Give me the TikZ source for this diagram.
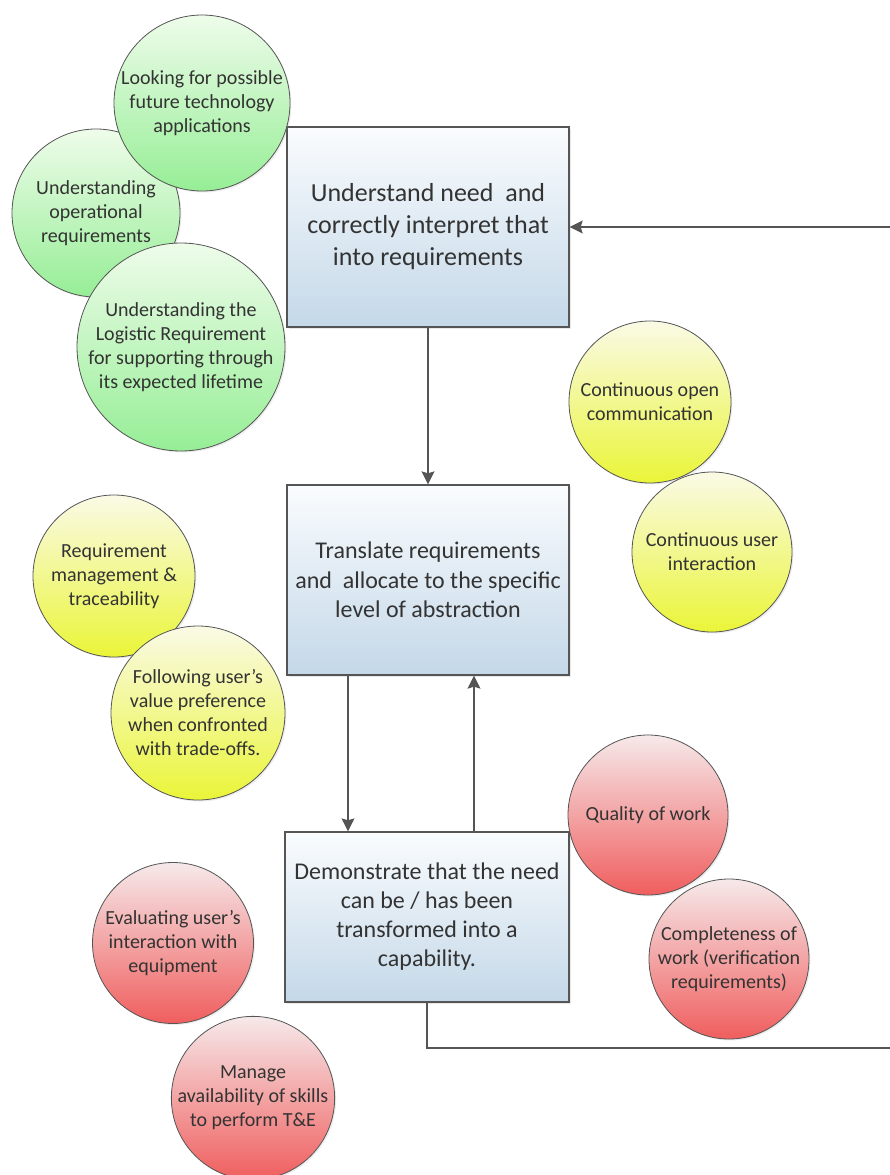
\documentclass[tikz,border=0pt]{standalone}
\usepackage{fontspec}
\setmainfont{Carlito}
\usepackage{tikz}
\usetikzlibrary{shapes, shadows, arrows.meta}
\usetikzlibrary{positioning}
\usepackage{xcolor}
\definecolor{textgray}{HTML}{333333}
\definecolor{linegray}{HTML}{555555}
\definecolor{boxtop}{HTML}{FAFCFE}
\definecolor{boxbottom}{HTML}{C4D8E8}
\definecolor{greentop}{HTML}{EEFCEA}
\definecolor{greenbottom}{HTML}{96EE96}
\definecolor{yellowtop}{HTML}{FAFAE6}
\definecolor{yellowbottom}{HTML}{EAF538}
\definecolor{redtop}{HTML}{F6E9EA}
\definecolor{redbottom}{HTML}{F05E5E}

\tikzset{
  needbox/.style={draw=linegray, line width=1.3pt, rectangle, align=center,
    top color=boxtop, bottom color=boxbottom, text=textgray,
    drop shadow={opacity=0.18, shadow xshift=2pt, shadow yshift=-2pt}},
  bubble/.style={draw=linegray, line width=0.8pt, circle, inner sep=0pt, align=center,
    text=textgray, font=\fontsize{20}{24}\selectfont,
    drop shadow={opacity=0.15, shadow xshift=1.5pt, shadow yshift=-1.5pt}},
  greenbub/.style={bubble, top color=greentop, bottom color=greenbottom},
  yellowbub/.style={bubble, top color=yellowtop, bottom color=yellowbottom},
  redbub/.style={bubble, top color=redtop, bottom color=redbottom},
  flow/.style={draw=linegray, line width=1.3pt,
    -{Stealth[length=13pt, width=13pt, inset=2pt]}}
}

\begin{document}
\begin{tikzpicture}[x=1pt, y=-1pt]
       \useasboundingbox (0, 0) rectangle (890, 1175);
       \clip (0, 0) rectangle (890, 1175);

       \node[needbox, minimum width=282pt, minimum height=200pt, font=\fontsize{26}{32}\selectfont]
             (need) at (428, 227) {Understand need \ and\\correctly interpret that\\into requirements};
       \node[needbox, minimum width=282pt, minimum height=190pt, font=\fontsize{24}{29.5}\selectfont]
             (trans) at (428, 580) {Translate requirements\\and \ allocate to the specific\\level of abstraction};
       \node[needbox, minimum width=284pt, minimum height=170pt, font=\fontsize{24}{29}\selectfont]
             (demo) at (427, 917) {Demonstrate that the need\\can be / has been\\transformed into a\\capability.};

       \node[greenbub, minimum size=168pt] (oper) at (96, 213) {Understanding\\operational\\requirements};
       \node[greenbub, minimum size=176pt] (future) at (202, 103) {Looking for possible\\future technology\\applications};
       \node[greenbub, minimum size=208pt] (logistic) at (181, 347) {Understanding the\\Logistic Requirement\\for supporting through\\its expected lifetime};

       \node[yellowbub, minimum size=162pt] (commun) at (650, 402) {Continuous open\\communication};
       \node[yellowbub, minimum size=160pt] (interact) at (712, 552) {Continuous user\\interaction};
       \node[yellowbub, minimum size=162pt] (trace) at (114, 576) {Requirement\\management \&\\traceability};
       \node[yellowbub, minimum size=174pt] (prefer) at (198, 713) {Following user’s\\value preference\\when confronted\\with trade-offs.};

       \node[redbub, minimum size=160pt] (quality) at (648, 815) {Quality of work};
       \node[redbub, minimum size=160pt] (complete) at (729, 959) {Completeness of\\work (verification\\requirements)};
       \node[redbub, minimum size=161pt] (evaluate) at (173, 943) {Evaluating user’s\\interaction with\\equipment};
       \node[redbub, minimum size=160pt] (skills) at (253, 1098) {Manage\\availability of skills\\to perform T\&E};

       \coordinate (loopa) at (895, 1048);
       \coordinate (loopb) at (895, 227);

       \draw[flow] (need) -- (trans);
       \draw[flow] ([xshift=-80pt]trans.south) -- ([xshift=-79pt]demo.north);
       \draw[flow] ([xshift=47pt]demo.north) -- ([xshift=46pt]trans.south);
       \draw[flow] (demo.south) |- (loopa) -- (loopb) -- (need.east);
    \end{tikzpicture}
\end{document}
